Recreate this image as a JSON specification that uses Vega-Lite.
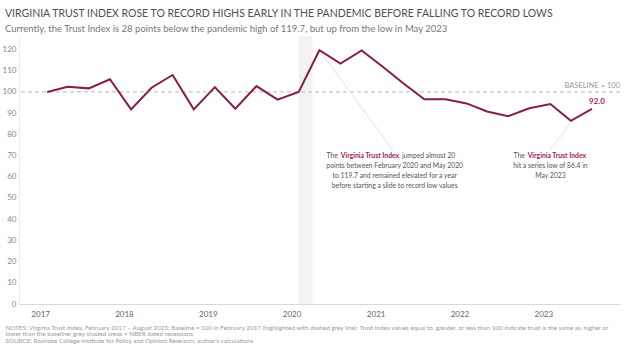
{
  "$schema": "https://vega.github.io/schema/vega-lite/v6.json",
  "width": 601,
  "height": 268,
  "autosize": {"type": "none"},
  "padding": {"left": 19, "top": 36, "right": 4, "bottom": 47},
  "background": "white",
  "config": {"view": {"stroke": null}, "font": "Lato"},
  "title": {
    "text": "VIRGINIA TRUST INDEX ROSE TO RECORD HIGHS EARLY IN THE PANDEMIC BEFORE FALLING TO RECORD LOWS",
    "subtitle": "Currently, the Trust Index is 28 points below the pandemic high of 119.7, but up from the low in May 2023",
    "anchor": "start",
    "frame": "group",
    "dx": -14,
    "offset": 3,
    "font": "Lato",
    "fontSize": 10.5,
    "fontWeight": "normal",
    "color": "#505050",
    "subtitleFont": "Lato",
    "subtitleFontSize": 9.5,
    "subtitleColor": "#777777",
    "subtitlePadding": 4
  },
  "datasets": {
    "trust": [
      {"date": "2017-02-01", "value": 100.0},
      {"date": "2017-05-01", "value": 102.5},
      {"date": "2017-08-01", "value": 101.7},
      {"date": "2017-11-01", "value": 106.0},
      {"date": "2018-02-01", "value": 91.8},
      {"date": "2018-05-01", "value": 102.0},
      {"date": "2018-08-01", "value": 108.0},
      {"date": "2018-11-01", "value": 91.8},
      {"date": "2019-02-01", "value": 102.3},
      {"date": "2019-05-01", "value": 92.1},
      {"date": "2019-08-01", "value": 102.8},
      {"date": "2019-11-01", "value": 96.4},
      {"date": "2020-02-01", "value": 100.0},
      {"date": "2020-05-01", "value": 119.7},
      {"date": "2020-08-01", "value": 113.4},
      {"date": "2020-11-01", "value": 119.6},
      {"date": "2021-02-01", "value": 111.9},
      {"date": "2021-05-01", "value": 104.1},
      {"date": "2021-08-01", "value": 96.6},
      {"date": "2021-11-01", "value": 96.6},
      {"date": "2022-02-01", "value": 94.6},
      {"date": "2022-05-01", "value": 90.8},
      {"date": "2022-08-01", "value": 88.6},
      {"date": "2022-11-01", "value": 92.3},
      {"date": "2023-02-01", "value": 94.3},
      {"date": "2023-05-01", "value": 86.4},
      {"date": "2023-08-01", "value": 92.0}
    ],
    "recession": [{"start": "2020-02-01", "end": "2020-04-01"}],
    "baseline": [{"date": "2023-12-01", "value": 100, "label": "BASELINE = 100"}],
    "connectors": [
      {"date": "2020-05-01", "value": 119.7, "date2": "2021-03-17", "value2": 72.6},
      {"date": "2023-05-01", "value": 85.5, "date2": "2023-01-31", "value2": 72.6}
    ],
    "noteHeads": [
      {"date": "2020-12-07", "value": 71.2, "pre": "The", "hl": "Virginia Trust Index", "post": "jumped almost 20"},
      {"date": "2023-03-01", "value": 71.2, "pre": "The", "hl": "Virginia Trust Index", "post": ""}
    ],
    "noteBodies": [
      {"date": "2021-03-25", "value": 71.2, "text": ["points between February 2020 and May 2020", "to 119.7 and remained elevated for a year", "before starting a slide to record low values"]},
      {"date": "2023-02-01", "value": 71.2, "text": ["hit a series low of 86.4 in", "May 2023"]}
    ]
  },
  "encoding": {
    "x": {
      "field": "date",
      "type": "temporal",
      "scale": {"domain": [{"year": 2016, "month": "oct", "date": 1}, {"year": 2023, "month": "dec", "date": 1}]},
      "axis": {
        "format": "%Y",
        "tickCount": {"interval": "year", "step": 1},
        "grid": false,
        "ticks": false,
        "labelFlush": false,
        "domainColor": "#d9d9d9",
        "labelColor": "#666666",
        "labelFontSize": 8,
        "labelPadding": 6,
        "title": [
          "NOTES: Virginia Trust Index, February 2017 – August 2023; Baseline = 100 in February 2017 (highlighted with dashed grey line); Trust Index values equal to, greater, or less than 100 indicate trust is the same as, higher or",
          "lower than the baseline; grey shaded areas = NBER dated recessions",
          "SOURCE: Roanoke College Institute for Policy and Opinion Research; author's calculations"
        ],
        "titleAnchor": "start",
        "titleAlign": "left",
        "titleBaseline": "top",
        "titleX": -14,
        "titleY": 20,
        "titleFontSize": 6.3,
        "titleFontWeight": "normal",
        "titleColor": "#9a9a9a",
        "titleLineHeight": 6.8
      }
    },
    "y": {
      "field": "value",
      "type": "quantitative",
      "scale": {"domain": [0, 126.4], "nice": false},
      "axis": {
        "values": [0, 10, 20, 30, 40, 50, 60, 70, 80, 90, 100, 110, 120],
        "grid": false,
        "ticks": false,
        "domainColor": "#ececec",
        "labelColor": "#888888",
        "labelFontSize": 8,
        "labelPadding": 3,
        "title": null
      }
    }
  },
  "layer": [
    {
      "data": {"name": "recession"},
      "mark": {"type": "rect", "color": "#f2f2f2"},
      "encoding": {
        "x": {"field": "start", "type": "temporal"},
        "x2": {"field": "end"},
        "y": null
      }
    },
    {
      "data": {"name": "baseline"},
      "mark": {"type": "rule", "color": "#c8c8c8", "strokeDash": [4, 3], "strokeWidth": 1.3},
      "encoding": {"x": null}
    },
    {
      "data": {"name": "baseline"},
      "mark": {"type": "text", "align": "right", "baseline": "bottom", "dy": -2, "fontSize": 7.5, "color": "#999999"},
      "encoding": {"text": {"field": "label"}}
    },
    {
      "data": {"name": "connectors"},
      "mark": {"type": "rule", "color": "#d4d4d4", "strokeWidth": 0.7},
      "encoding": {
        "x2": {"field": "date2"},
        "y2": {"field": "value2"}
      }
    },
    {
      "data": {"name": "trust"},
      "mark": {"type": "line", "color": "#861F41", "strokeWidth": 2}
    },
    {
      "data": {"name": "trust"},
      "transform": [{"filter": "datum.value == 92.0"}],
      "mark": {"type": "text", "align": "center", "baseline": "bottom", "dx": 5, "dy": -3, "fontSize": 8, "fontWeight": "bold", "color": "#a3195b"},
      "encoding": {"text": {"field": "value", "type": "quantitative", "format": ".1f"}}
    },
    {
      "data": {"name": "noteHeads"},
      "mark": {"type": "text", "align": "center", "baseline": "top", "fontSize": 6.8, "fontWeight": "bold", "color": "#a3195b"},
      "encoding": {"text": {"field": "hl"}}
    },
    {
      "data": {"name": "noteHeads"},
      "mark": {"type": "text", "align": "right", "baseline": "top", "dx": -32, "fontSize": 6.8, "color": "#555555"},
      "encoding": {"text": {"field": "pre"}}
    },
    {
      "data": {"name": "noteHeads"},
      "mark": {"type": "text", "align": "left", "baseline": "top", "dx": 32, "fontSize": 6.8, "color": "#555555"},
      "encoding": {"text": {"field": "post"}}
    },
    {
      "data": {"name": "noteBodies"},
      "mark": {"type": "text", "align": "center", "baseline": "top", "dy": 10, "fontSize": 6.8, "lineHeight": 10, "color": "#555555"},
      "encoding": {"text": {"field": "text"}}
    }
  ]
}
